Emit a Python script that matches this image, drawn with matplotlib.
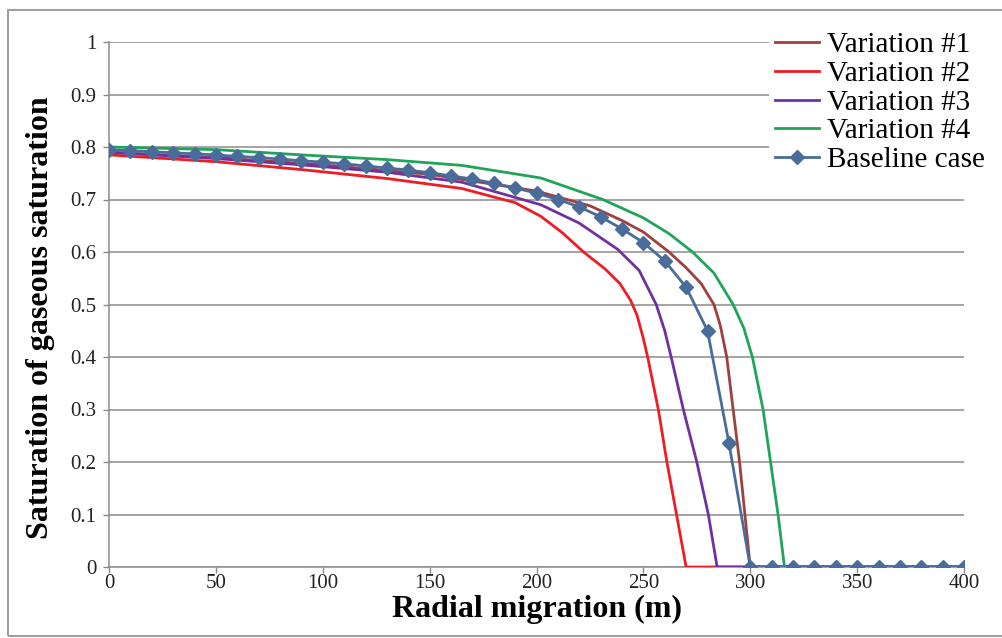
import matplotlib
matplotlib.use("Agg")
import matplotlib.pyplot as plt
import matplotlib.patches as patches

plt.rcParams["font.family"] = ["Liberation Serif", "DejaVu Serif"]

# Variation #1
x_var1 = [0, 50, 100, 150, 200, 225, 240, 250, 262, 270, 277, 283, 286, 289, 292, 295, 297.5, 300, 400]
y_var1 = [0.790, 0.780, 0.766, 0.748, 0.716, 0.688, 0.660, 0.638, 0.600, 0.570, 0.540, 0.500, 0.460,
          0.400, 0.300, 0.200, 0.100, 0.0, 0.0]

# Variation #2
x_var2 = [0, 50, 90, 130, 165, 190, 202, 212, 222, 232, 239, 244, 247, 250, 252, 257, 261, 265.5, 270, 400]
y_var2 = [0.785, 0.772, 0.757, 0.740, 0.721, 0.694, 0.668, 0.637, 0.600, 0.568, 0.540, 0.508, 0.480,
          0.435, 0.400, 0.300, 0.200, 0.100, 0.0, 0.0]

# Variation #3
x_var3 = [0, 50, 90, 130, 165, 202, 220, 238, 248, 256, 260, 263, 268.7, 275, 280.4, 284.5, 400]
y_var3 = [0.790, 0.778, 0.766, 0.752, 0.733, 0.690, 0.655, 0.605, 0.565, 0.500, 0.450, 0.400, 0.300,
          0.200, 0.100, 0.0, 0.0]

# Variation #4
x_var4 = [0, 50, 90, 130, 165, 202, 231, 250, 262, 273, 283, 292, 297, 301, 306, 309.5, 313, 316, 400]
y_var4 = [0.800, 0.795, 0.785, 0.776, 0.765, 0.741, 0.700, 0.665, 0.635, 0.600, 0.560, 0.500, 0.455,
          0.400, 0.300, 0.200, 0.100, 0.0, 0.0]

# Baseline case (markers every 10 m)
x_base = [0, 10, 20, 30, 40, 50, 60, 70, 80, 90, 100, 110, 120, 130, 140, 150, 160, 170, 180, 190,
          200, 210, 220, 230, 240, 250, 260, 270, 280, 290, 300, 310, 320, 330, 340, 350, 360, 370,
          380, 390, 400]
y_base = [0.795, 0.793, 0.791, 0.789, 0.787, 0.785, 0.782, 0.780, 0.777, 0.774, 0.771, 0.768, 0.764,
          0.760, 0.756, 0.751, 0.745, 0.739, 0.731, 0.722, 0.712, 0.700, 0.686, 0.667, 0.644, 0.618,
          0.583, 0.533, 0.450, 0.237, 0, 0, 0, 0, 0, 0, 0, 0, 0, 0, 0]

x_ticks = [0, 50, 100, 150, 200, 250, 300, 350, 400]
y_ticks = [0, 0.1, 0.2, 0.3, 0.4, 0.5, 0.6, 0.7, 0.8, 0.9, 1]
y_ticklabels = ["0", "0.1", "0.2", "0.3", "0.4", "0.5", "0.6", "0.7", "0.8", "0.9", "1"]

fig = plt.figure(figsize=(10.02, 6.38), dpi=100)
ax = fig.add_axes([109 / 1002, 71 / 638, 855 / 1002, 525 / 638])

lw = 2.0
ax.plot(x_var1, y_var1, color="#A0403C", lw=lw, label="Variation #1", zorder=3)
ax.plot(x_var2, y_var2, color="#EE1C25", lw=lw, label="Variation #2", zorder=3)
ax.plot(x_var3, y_var3, color="#7030A0", lw=lw, label="Variation #3", zorder=3)
ax.plot(x_var4, y_var4, color="#1FA55A", lw=lw, label="Variation #4", zorder=3)
ax.plot(x_base, y_base, color="#4A6C9B", lw=lw, marker="D", ms=7, label="Baseline case", zorder=4)

ax.set_xlim(0, 400)
ax.set_ylim(0, 1)
ax.set_xticks(x_ticks)
ax.set_yticks(y_ticks)
ax.set_yticklabels(y_ticklabels)
ax.tick_params(axis="both", labelsize=15, color="#888888", length=4, width=1, labelcolor="#222222")
ax.tick_params(axis="x", pad=1)
ax.tick_params(axis="y", pad=5)

ax.grid(axis="y", color="#8C8C8C", lw=1.1)
ax.set_axisbelow(True)
for s in ["top", "right"]:
    ax.spines[s].set_visible(False)
for s in ["left", "bottom"]:
    ax.spines[s].set_color("#8C8C8C")
    ax.spines[s].set_linewidth(1.1)

ax.set_xlabel("Radial migration (m)", fontsize=23, fontweight="bold")
ax.xaxis.set_label_coords(0.5, (567 - 595) / 525)
ax.set_ylabel("Saturation of gaseous saturation", fontsize=23, fontweight="bold")
ax.yaxis.set_label_coords((55 - 109) / 855, 0.475)

leg = fig.legend(loc="upper left", bbox_to_anchor=(769 / 1002, 1 - 26 / 638), fontsize=21,
                 frameon=True, handlelength=1.5, handletextpad=0.28, labelspacing=0.08,
                 borderpad=0.2, borderaxespad=0)
leg.get_frame().set_edgecolor("none")
leg.get_frame().set_facecolor("white")
leg.get_frame().set_alpha(1)

# outer chart border
fig.patches.append(patches.Rectangle((8 / 1002, 2 / 638), 1.0, 1 - 12 / 638, transform=fig.transFigure,
                                     fill=False, edgecolor="#A0A0A0", lw=1.5))

fig.savefig("out.png", dpi=100)
